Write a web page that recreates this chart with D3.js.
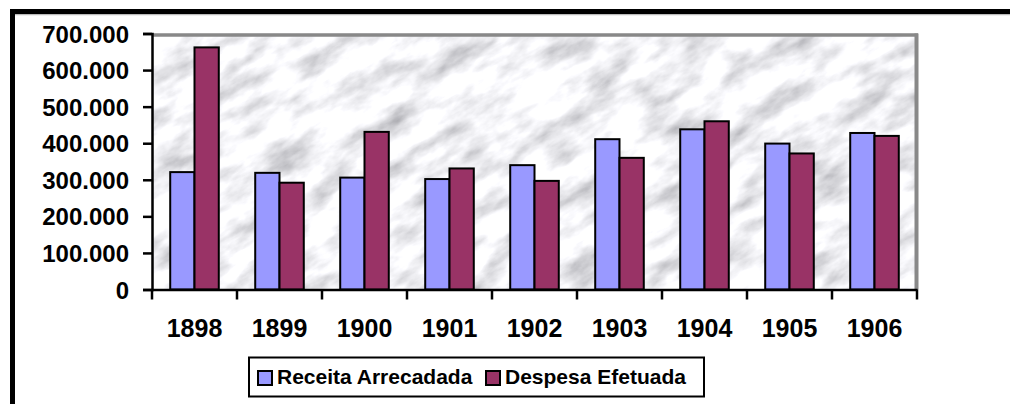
<!DOCTYPE html>
<html><head><meta charset="utf-8">
<script src="https://cdn.jsdelivr.net/npm/d3@7"></script>
<style>html,body{margin:0;padding:0;background:#fff;}svg{display:block;}text{font-family:"Liberation Sans",Arial,sans-serif;font-weight:bold;fill:#000;}</style>
</head><body>
<svg id="c" width="1010" height="404"></svg>
<script>
const years = ["1898","1899","1900","1901","1902","1903","1904","1905","1906"];
const seriesNames = ["Receita Arrecadada","Despesa Efetuada"];
const receita = [321000,319000,306000,302000,340000,411000,438000,399000,428000];
const despesa = [662000,292000,431000,331000,297000,360000,460000,372000,420000];
const yTicks = [0,100000,200000,300000,400000,500000,600000,700000];
const colors = ["#9999FF","#993366"];

const svg = d3.select("#c");
const L=152,R=917,T=33.5,B=289.5;
const x = d3.scaleBand().domain(years).range([L,R]).padding(0);
const xi = d3.scaleBand().domain(seriesNames).range([0,x.bandwidth()]).paddingInner(0).paddingOuter(0.75);
const y = d3.scaleLinear().domain([0,700000]).range([B,T]);
const fmt = d3.formatLocale({thousands:".",grouping:[3],decimal:",",currency:["",""]}).format(",");

const defs = svg.append("defs");
const f = defs.append("filter").attr("id","marble").attr("x",0).attr("y",0).attr("width",1).attr("height",1);
f.append("feTurbulence").attr("type","fractalNoise").attr("baseFrequency","0.02 0.045").attr("numOctaves",5).attr("seed",11).attr("result","n");
f.append("feColorMatrix").attr("type","matrix").attr("values","1.15 0 0 0 0.33  1.15 0 0 0 0.33  1.15 0 0 0 0.36  0 0 0 0 1");
defs.append("clipPath").attr("id","pc").append("rect").attr("x",L).attr("y",T).attr("width",R-L).attr("height",B-T);

// marble background
const bg = svg.append("g").attr("clip-path","url(#pc)");
bg.append("rect").attr("x",L).attr("y",T).attr("width",R-L).attr("height",B-T).attr("fill","#e6e6e8");
bg.append("g").attr("transform",`rotate(-30 ${(L+R)/2} ${(T+B)/2})`)
  .append("rect").attr("x",L-200).attr("y",T-450).attr("width",R-L+400).attr("height",B-T+900)
  .attr("fill","#fff").attr("filter","url(#marble)");

// plot border (gray top/right)
svg.append("line").attr("x1",L).attr("x2",R+1).attr("y1",T+1.5).attr("y2",T+1.5).attr("stroke","#888").attr("stroke-width",3.5);
svg.append("line").attr("x1",R-0.5).attr("x2",R-0.5).attr("y1",T).attr("y2",B).attr("stroke","#888").attr("stroke-width",4);

// bars
const data = years.map((yr,i)=>({yr,vals:[receita[i],despesa[i]]}));
const g = svg.append("g");
data.forEach(d=>{
  d.vals.forEach((v,j)=>{
    g.append("rect").attr("x",x(d.yr)+xi(seriesNames[j])).attr("y",y(v))
      .attr("width",xi.bandwidth()).attr("height",B-y(v))
      .attr("fill",colors[j]).attr("stroke","#000").attr("stroke-width",2);
  });
});

// axes
const ya = svg.append("g").attr("transform",`translate(${L},0)`)
  .call(d3.axisLeft(y).tickValues(yTicks).tickFormat(fmt).tickSize(9).tickPadding(14));
ya.select(".domain").attr("stroke","#000").attr("stroke-width",2.5);
ya.selectAll(".tick line").attr("stroke","#000").attr("stroke-width",2.5);
ya.selectAll(".tick text").style("font-size","24px").attr("dy","0.36em");

const xa = svg.append("g").attr("transform",`translate(0,${B})`)
  .call(d3.axisBottom(x).tickSize(0).tickPadding(30));
xa.select(".domain").attr("stroke","#000").attr("stroke-width",2.5);
xa.selectAll(".tick text").style("font-size","25px").attr("dy","0.71em").attr("y",30);
svg.append("g").selectAll("line").data(years.concat(["end"])).join("line")
  .attr("x1",(d,i)=>i<years.length?x(d):R).attr("x2",(d,i)=>i<years.length?x(d):R)
  .attr("y1",B).attr("y2",B+10).attr("stroke","#000").attr("stroke-width",2.5);

// legend
const lg = svg.append("g");
lg.append("rect").attr("x",249).attr("y",357.5).attr("width",455).attr("height",39).attr("fill","#fff").attr("stroke","#000").attr("stroke-width",2);
const lx=[258,486], tx=[277,505];
seriesNames.forEach((s,j)=>{
  lg.append("rect").attr("x",lx[j]).attr("y",371).attr("width",14).attr("height",14).attr("fill",colors[j]).attr("stroke","#000").attr("stroke-width",2);
  lg.append("text").attr("x",tx[j]).attr("y",384).style("font-size","21px").text(s);
});

// outer frame
svg.append("line").attr("x1",10).attr("x2",1010).attr("y1",14.6).attr("y2",14.6).attr("stroke","#bbb").attr("stroke-width",1.2);
svg.append("path").attr("d","M12.5,404 L12.5,11.5 L1010,11.5").attr("fill","none").attr("stroke","#000").attr("stroke-width",5);
</script>
</body></html>
